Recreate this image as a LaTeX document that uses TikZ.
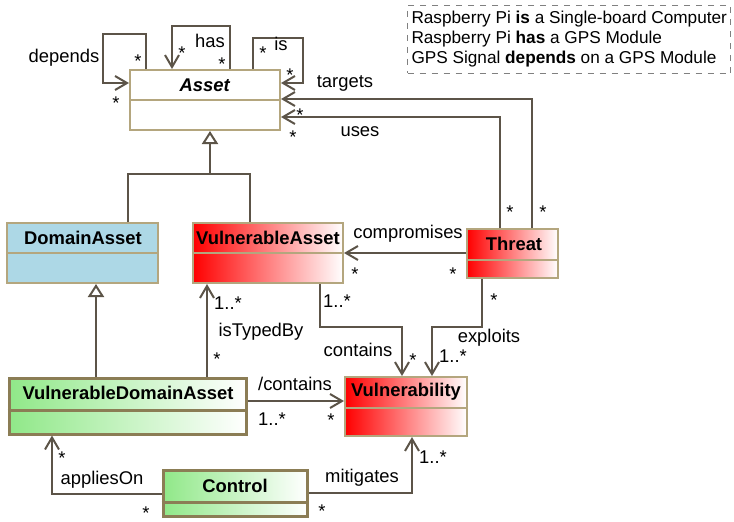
\documentclass[tikz,border=0pt]{standalone}
\usepackage{fontspec}
\setmainfont{Liberation Sans}
\usepackage{tikz}
\usetikzlibrary{arrows.meta,positioning,fit}

\definecolor{boxline}{RGB}{180,166,126}
\definecolor{ctrlline}{RGB}{139,125,85}
\definecolor{conn}{RGB}{92,84,72}
\definecolor{softgreen}{RGB}{144,232,136}
\definecolor{softblue}{RGB}{173,216,230}

\tikzset{
  every node/.style={font=\fontsize{9.2}{9.6}\selectfont},
  classbox/.style={draw=boxline, line width=1pt, rectangle, inner sep=0pt},
  ctrlbox/.style={draw=ctrlline, line width=1.5pt, rectangle, inner sep=0pt},
  redgrad/.style={left color=red, right color=white},
  greengrad/.style={left color=softgreen, right color=white},
  divider/.style={draw=boxline, line width=1pt},
  ctrldivider/.style={draw=ctrlline, line width=1.5pt},
  classname/.style={font=\fontsize{9.2}{11}\selectfont\bfseries, inner sep=0pt},
  link/.style={draw=conn, line width=1pt},
  assoc/.style={link, -{Straight Barb[length=6pt,width=7pt]}},
  inherit/.style={link, -{Triangle[open,length=6.5pt,width=8pt]}},
  mult/.style={inner sep=0.5pt},
  starmult/.style={inner sep=0.5pt, yshift=-2pt},
  legend/.style={draw=gray, dashed, line width=0.5pt, align=left, inner xsep=2pt,
    inner ysep=3pt, font=\fontsize{8.6}{9.9}\selectfont}
}

\begin{document}
\begin{tikzpicture}[x=0.5pt, y=-0.5pt]
\useasboundingbox (0,0) rectangle (734,521);

% classes
\node[classbox, fill=white, fit={(130,70) (280,130)}] (asset) {};
\node[classbox, fill=softblue, fit={(7,223) (158,283)}] (domain) {};
\node[classbox, redgrad, fit={(193,223) (343,283)}] (vasset) {};
\node[classbox, redgrad, fit={(467,229) (558,278)}] (threat) {};
\node[ctrlbox, greengrad, fit={(9,378) (246,434)}] (vda) {};
\node[classbox, redgrad, fit={(345,377) (467,436)}] (vuln) {};
\node[ctrlbox, greengrad, fit={(163,470) (307,516)}] (control) {};

% compartments
\draw[divider] (asset.west |- 0,100) -- (asset.east |- 0,100);
\draw[divider] (domain.west |- 0,253) -- (domain.east |- 0,253);
\draw[divider] (vasset.west |- 0,253) -- (vasset.east |- 0,253);
\draw[divider] (threat.west |- 0,260) -- (threat.east |- 0,260);
\draw[ctrldivider] (vda.west |- 0,410) -- (vda.east |- 0,410);
\draw[divider] (vuln.west |- 0,408) -- (vuln.east |- 0,408);
\draw[ctrldivider] (control.west |- 0,502) -- (control.east |- 0,502);

\node[classname] (asset-name) at (205,85) {\textit{Asset}};
\node[classname] (domain-name) at (83,238) {DomainAsset};
\node[classname] (vasset-name) at (268,238) {VulnerableAsset};
\node[classname] (threat-name) at (514,244) {Threat};
\node[classname] (vda-name) at (128,393) {VulnerableDomainAsset};
\node[classname] (vuln-name) at (406,392) {Vulnerability};
\node[classname] (control-name) at (235,486) {Control};

% legend
\node[legend, anchor=north west] (legend) at (407,5) {%
  Raspberry Pi \textbf{is} a Single-board Computer\\
  Raspberry Pi \textbf{has} a GPS Module\\
  GPS Signal \textbf{depends} on a GPS Module};

% self associations on Asset
\draw[assoc] (asset.north -| 146,0) -- (146,34) -| (103,83) -- (asset.west |- 0,83);
\draw[assoc] (asset.north -| 230,0) -- (230,26) -| (asset.north -| 172,0);
\draw[assoc] (asset.north -| 253,0) -- (253,38) -| (303,83) -- (asset.east |- 0,83);
\node at (64,58) {depends};
\node[starmult] at (138,57) {*};
\node[starmult] at (116,99) {*};
\node at (210,41) {has};
\node[starmult] at (182,49) {*};
\node[starmult] at (222,60) {*};
\node at (281,44) {is};
\node[starmult] at (263,49) {*};
\node[starmult] at (290,71) {*};

% generalisations
\coordinate (genjoin) at (210,174);
\draw[inherit] (domain.north -| 128,0) |- (genjoin) -- (asset.south -| 210,0);
\draw[link] (vasset.north -| 250,0) |- (genjoin);
\draw[inherit] (vda.north -| 96,0) -- (domain.south -| 96,0);

% Threat associations
\draw[assoc] (threat.north -| 532,0) |- (asset.east |- 0,99);
\draw[assoc] (threat.north -| 500,0) |- (asset.east |- 0,117);
\node at (345,83) {targets};
\node at (360,132) {uses};
\node[starmult] at (300,111) {*};
\node[starmult] at (293,133) {*};
\node[starmult] at (510,208) {*};
\node[starmult] at (543,208) {*};

\draw[assoc] (threat.west |- 0,253) -- (vasset.east |- 0,253);
\node at (408,234) {compromises};
\node[starmult] at (355,270) {*};
\node[starmult] at (453,270) {*};

\draw[assoc] (threat.south -| 482,0) |- (432,327) -- (vuln.north -| 432,0);
\node[starmult] at (494,296) {*};
\node at (489,338) {exploits};
\node[mult] at (453,356) {1..*};

% contains / isTypedBy
\draw[assoc] (vasset.south -| 320,0) |- (402,327) -- (vuln.north -| 402,0);
\node[mult] at (337,301) {1..*};
\node at (358,350) {contains};
\node[starmult] at (413,356) {*};

\draw[assoc] (vda.north -| 207,0) -- (vasset.south -| 207,0);
\node[mult] at (228,303) {1..*};
\node at (261,332) {isTypedBy};
\node[starmult] at (217,355) {*};

\draw[assoc] (vda.east |- 0,401) -- (vuln.west |- 0,401);
\node at (295,384) {/contains};
\node[mult] at (272,419) {1..*};
\node[starmult] at (331,416) {*};

% Control associations
\draw[assoc] (control.west |- 0,494) -| (vda.south -| 52,0);
\node[starmult] at (62,454) {*};
\node at (102,480) {appliesOn};
\node[starmult] at (146,509) {*};

\draw[assoc] (control.east |- 0,493) -| (vuln.south -| 412,0);
\node at (362,478) {mitigates};
\node[starmult] at (322,507) {*};
\node[mult] at (433,457) {1..*};

\end{tikzpicture}
\end{document}
